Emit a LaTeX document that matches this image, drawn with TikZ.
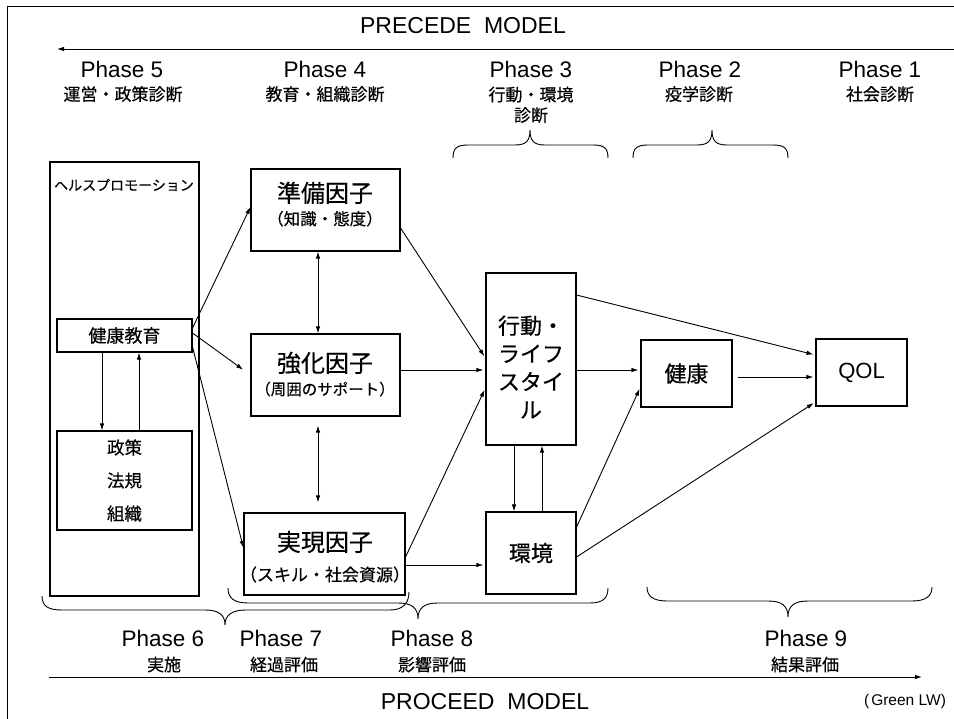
\documentclass[tikz,border=0pt]{standalone}
\usepackage{fontspec}
\setmainfont{Liberation Sans}
\newfontfamily\jp[FakeBold=0.45]{Noto Sans CJK JP}
\usetikzlibrary{arrows.meta}
\begin{document}
\begin{tikzpicture}[x=1pt,y=-1pt,
  box/.style={draw, line width=1.1pt, inner sep=0pt, align=center},
  arr/.style={-{Latex[length=7pt,width=4.5pt]}, line width=0.9pt},
  darr/.style={{Latex[length=7pt,width=4.5pt]}-{Latex[length=7pt,width=4.5pt]}, line width=0.9pt},
  lat/.style={font=\fontsize{22.5}{26}\selectfont, inner sep=0pt, anchor=base},
  jsub/.style={font=\jp\fontsize{17}{20}\selectfont, inner sep=0pt, anchor=base},
  jbig/.style={font=\jp\fontsize{24}{28}\selectfont, inner sep=0pt, anchor=base},
  brace/.style={line width=0.9pt}
]
\useasboundingbox (0,0) rectangle (954,719);
% frame
\draw[line width=1pt] (7,719) -- (7,7) -- (954,7);

% titles
\node[font=\fontsize{23}{26}\selectfont, inner sep=0pt, anchor=base] (precede) at (463,34) {PRECEDE\ \ MODEL};
\coordinate (precR) at (954,49);
\coordinate (precL) at (57,49);
\draw[arr] (precR) -- (precL);

\node[lat] (p5) at (122,78) {Phase 5};
\node[lat] (p4) at (325,78) {Phase 4};
\node[lat] (p3) at (531,78) {Phase 3};
\node[lat] (p2) at (700,78) {Phase 2};
\node[lat] (p1) at (880,78) {Phase 1};
\node[jsub] (s5) at (123,100.5) {運営・政策診断};
\node[jsub] (s4) at (325,100.5) {教育・組織診断};
\node[jsub] (s3a) at (531,101) {行動・環境};
\node[jsub] (s3b) at (531,121.5) {診断};
\node[jsub] (s2) at (699,100.5) {疫学診断};
\node[jsub] (s1) at (880,100.5) {社会診断};

% top braces
\draw[brace] (453,158) .. controls (453,148) and (457,145) .. (468,145) -- (515,145)
  .. controls (526,145) and (530,141) .. (530,130) .. controls (530,141) and (534,145) .. (545,145)
  -- (593,145) .. controls (604,145) and (608,148) .. (608,158);
\draw[brace] (633,158) .. controls (633,148) and (637,145) .. (648,145) -- (697,145)
  .. controls (708,145) and (712,141) .. (712,130) .. controls (712,141) and (716,145) .. (727,145)
  -- (773,145) .. controls (784,145) and (788,148) .. (788,158);

% left column
\node[box, minimum width=149pt, minimum height=434pt] (hp) at (124.5,379) {};
\node[font=\jp\fontsize{14}{16}\selectfont, inner sep=0pt] (hpT) at (124,185) {ヘルスプロモーション};
\node[box, minimum width=135pt, minimum height=33pt, font=\jp\fontsize{18}{20}\selectfont] (kenkyo) at (124.5,335.5) {健康教育};
\node[box, minimum width=135pt, minimum height=99pt, font=\jp\fontsize{17.5}{33}\selectfont] (seisaku) at (124.5,480.5) {政策\\法規\\組織};
\draw[arr] (kenkyo.south -| 102,0) -- (seisaku.north -| 102,0);
\draw[arr] (seisaku.north -| 139,0) -- (kenkyo.south -| 139,0);

% factor boxes
\node[box, minimum width=149pt, minimum height=82pt] (jun) at (325.5,210) {};
\node[jbig] (junT) at (325,202) {準備因子};
\node[jsub, font=\jp\fontsize{16.5}{20}\selectfont] (junS) at (325,225) {（知識・態度）};
\node[box, minimum width=149pt, minimum height=82pt] (kyo) at (325.5,375) {};
\node[jbig] (kyoT) at (325,372) {強化因子};
\node[jsub, font=\jp\fontsize{15.5}{20}\selectfont] (kyoS) at (325,395) {（周囲のサポート）};
\node[box, minimum width=161pt, minimum height=82pt] (jit) at (324.5,554) {};
\node[jbig] (jitT) at (325,551) {実現因子};
\node[jsub] (jitS) at (325,581) {（スキル・社会資源）};

\draw[darr] (jun.south -| 318,0) -- (kyo.north -| 318,0);
\draw[darr, shorten <=9pt, shorten >=10pt] (kyo.south -| 318,0) -- (jit.north -| 318,0);

% right boxes
\node[box, minimum width=90pt, minimum height=172pt] (act) at (531,359) {};
\node[font=\jp\fontsize{22}{28}\selectfont, inner sep=0pt, align=center] (actT) at (531,367) {行動・\\ライフ\\スタイ\\ル};
\node[box, minimum width=90pt, minimum height=82pt, font=\jp\fontsize{22}{26}\selectfont] (env) at (531,553) {環境};
\node[box, minimum width=91pt, minimum height=67pt, font=\jp\fontsize{22}{26}\selectfont] (health) at (686.5,373.5) {健康};
\node[box, minimum width=91pt, minimum height=67pt, font=\fontsize{22}{26}\selectfont] (qol) at (861.5,372.5) {QOL};

% arrows from health education
\draw[arr] (kenkyo.east |- 0,328) -- (jun.west |- 0,207);
\draw[arr, shorten >=9pt] (kenkyo.east |- 0,333) -- (kyo.west |- 0,375);
\draw[arr] (kenkyo.east |- 0,347) -- (jit.west |- 0,548);

% to behaviour
\draw[arr, shorten >=2pt] (jun.east |- 0,228) -- (act.west |- 0,358);
\draw[arr, shorten >=2pt] (kyo.east |- 0,370) -- (act.west |- 0,370);
\draw[arr, shorten >=2pt] (jit.east |- 0,557) -- (act.west |- 0,388);
\draw[arr, shorten >=2pt] (jit.east |- 0,565) -- (env.west |- 0,565);

\draw[arr] (act.south -| 514,0) -- (env.north -| 514,0);
\draw[arr] (env.north -| 542,0) -- (act.south -| 542,0);

\draw[arr, shorten >=2pt] (act.east |- 0,370) -- (health.west |- 0,370);
\draw[arr, shorten >=2pt] (act.east |- 0,295) -- (qol.west |- 0,355);
\draw[arr, shorten <=5pt, shorten >=2pt] (health.east |- 0,377) -- (qol.west |- 0,377);
\draw[arr, shorten >=2pt] (env.east |- 0,527) -- (health.west |- 0,387);
\draw[arr, shorten >=2pt] (env.east |- 0,557) -- (qol.west |- 0,402);

% bottom braces
\draw[brace] (42,596) .. controls (42,606) and (48,610) .. (62,610) -- (205,610)
  .. controls (219,610) and (225,615) .. (225,625) .. controls (225,615) and (232,610) .. (246,610)
  -- (390,610) .. controls (403,610) and (409,603) .. (409,592);
\draw[brace] (228,588) .. controls (228,598) and (234,603) .. (248,603) -- (398,603)
  .. controls (412,603) and (418,608) .. (418,619) .. controls (418,608) and (424,603) .. (438,603)
  -- (590,603) .. controls (603,603) and (608,598) .. (608,588);
\draw[brace] (647,587) .. controls (647,596) and (653,601) .. (667,601) -- (768,601)
  .. controls (782,601) and (788,606) .. (788,617) .. controls (788,606) and (794,601) .. (808,601)
  -- (912,601) .. controls (926,601) and (932,596) .. (932,587);

% bottom labels
\node[lat] (p6) at (163,646) {Phase 6};
\node[lat] (p7) at (281,646) {Phase 7};
\node[lat] (p8) at (432,646) {Phase 8};
\node[lat] (p9) at (806,646) {Phase 9};
\node[jsub] (s6) at (164,671) {実施};
\node[jsub] (s7) at (284,671) {経過評価};
\node[jsub] (s8) at (432,671) {影響評価};
\node[jsub] (s9) at (805,671) {結果評価};

\coordinate (procL) at (49,677);
\coordinate (procR) at (922,677);
\draw[arr] (procL) -- (procR);
\node[font=\fontsize{23}{26}\selectfont, inner sep=0pt, anchor=base] (proceed) at (485,709) {PROCEED\ \ MODEL};
\node[font=\fontsize{15.5}{18}\selectfont, inner sep=0pt, anchor=base] (green) at (905,705) {(\hspace{2pt}Green LW)};
\end{tikzpicture}
\end{document}
